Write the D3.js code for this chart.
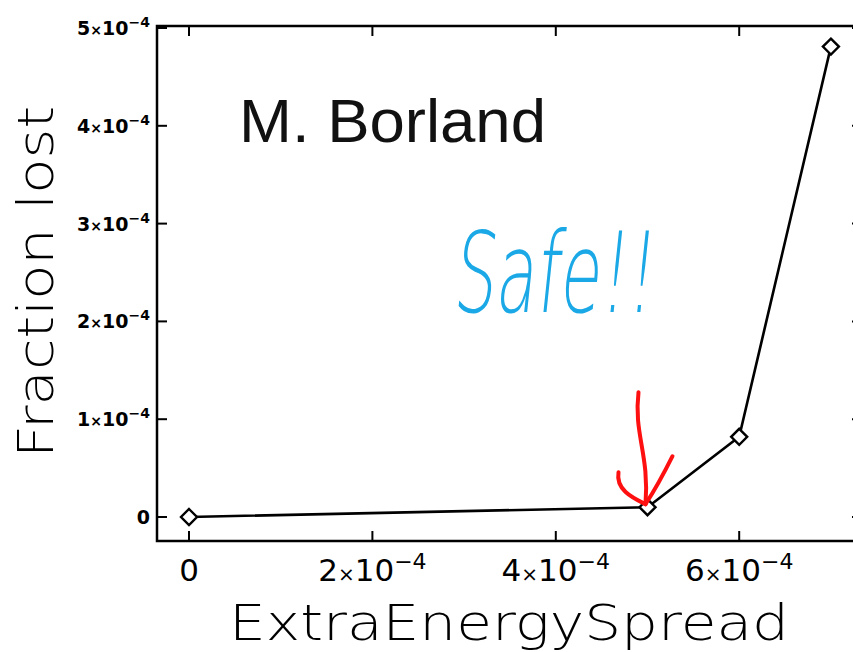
<!DOCTYPE html>
<html>
<head>
<meta charset="utf-8">
<script src="https://cdn.jsdelivr.net/npm/d3@7"></script>
<style>
  body { margin: 0; background: #fff; }
  svg { display: block; }
</style>
</head>
<body>
<div id="chart"></div>
<script>
// data
const spread = [0, 5e-4, 6e-4, 7e-4];
const fractionLost = [0, 1.0e-5, 8.2e-5, 4.81e-4];
const xTicks = [0, 2e-4, 4e-4, 6e-4];
const xTickMant = ["0", "2", "4", "6"];
const yTicks = [0, 1e-4, 2e-4, 3e-4, 4e-4, 5e-4];
const yTickMant = ["0", "1", "2", "3", "4", "5"];

const W = 853, H = 652;
const frame = { left: 157, top: 26, right: 862, bottom: 541 };

const svg = d3.select("#chart").append("svg")
  .attr("width", W).attr("height", H);

const x = d3.scaleLinear().domain([0, 7e-4]).range([189, 189 + 7 * 91.7]);
const y = d3.scaleLinear().domain([0, 5e-4]).range([517, 28]);

// frame
svg.append("rect")
  .attr("x", frame.left).attr("y", frame.top)
  .attr("width", frame.right - frame.left).attr("height", frame.bottom - frame.top)
  .attr("fill", "none").attr("stroke", "#000").attr("stroke-width", 2.5);

// inward ticks on all four sides
const tl = 10;
svg.selectAll("line.xb").data(xTicks).enter().append("line")
  .attr("x1", d => x(d)).attr("x2", d => x(d))
  .attr("y1", frame.bottom).attr("y2", frame.bottom - tl)
  .attr("stroke", "#000").attr("stroke-width", 2);
svg.selectAll("line.xt").data(xTicks).enter().append("line")
  .attr("x1", d => x(d)).attr("x2", d => x(d))
  .attr("y1", frame.top).attr("y2", frame.top + tl)
  .attr("stroke", "#000").attr("stroke-width", 2);
svg.selectAll("line.yl").data(yTicks).enter().append("line")
  .attr("x1", frame.left).attr("x2", frame.left + tl)
  .attr("y1", d => y(d)).attr("y2", d => y(d))
  .attr("stroke", "#000").attr("stroke-width", 2);
svg.selectAll("line.yr").data(yTicks).enter().append("line")
  .attr("x1", frame.right).attr("x2", frame.right - tl)
  .attr("y1", d => y(d)).attr("y2", d => y(d))
  .attr("stroke", "#000").attr("stroke-width", 2);

// x tick labels
const xl = svg.selectAll("text.xl").data(xTicks).enter().append("text")
  .attr("x", d => x(d)).attr("y", 581)
  .attr("text-anchor", "middle")
  .style("font-family", "DejaVu Sans").style("font-weight", "normal")
  .style("font-size", "31px").style("fill", "#000");
xl.each(function(d, i) {
  const t = d3.select(this);
  t.append("tspan").text(xTickMant[i]);
  if (d !== 0) {
    t.append("tspan").style("font-size", "20px").text("×");
    t.append("tspan").text("10");
    t.append("tspan").attr("dy", -12).style("font-size", "22px").text("−4");
  }
});

// y tick labels
const yl = svg.selectAll("text.yl").data(yTicks).enter().append("text")
  .attr("x", 150).attr("y", d => y(d) + 7)
  .attr("text-anchor", "end")
  .style("font-family", "DejaVu Sans").style("font-weight", "bold")
  .style("font-size", "19px").style("fill", "#000");
yl.each(function(d, i) {
  const t = d3.select(this);
  if (d === 0) { t.append("tspan").text("0"); return; }
  t.append("tspan").text(yTickMant[i]);
  t.append("tspan").style("font-size", "14px").text("×");
  t.append("tspan").text("10");
  t.append("tspan").attr("dy", -8).style("font-size", "14px").text("−4");
});

// axis titles
svg.append("text")
  .attr("x", 509).attr("y", 640)
  .attr("text-anchor", "middle")
  .attr("textLength", 560).attr("lengthAdjust", "spacingAndGlyphs")
  .style("font-family", "DejaVu Sans").style("font-weight", 200)
  .style("font-size", "50px").style("fill", "#000")
  .text("ExtraEnergySpread");

svg.append("text")
  .attr("transform", "translate(53,282) rotate(-90)")
  .attr("text-anchor", "middle")
  .attr("textLength", 352).attr("lengthAdjust", "spacingAndGlyphs")
  .style("font-family", "DejaVu Sans").style("font-weight", 200)
  .style("font-size", "50px").style("fill", "#000")
  .text("Fraction lost");

// data line and diamonds
const pts = spread.map((s, i) => ({ s, f: fractionLost[i] }));
svg.append("path").datum(pts)
  .attr("fill", "none").attr("stroke", "#000").attr("stroke-width", 2.6)
  .attr("d", d3.line().x(d => x(d.s)).y(d => y(d.f)));

svg.selectAll("path.pt").data(pts).enter().append("path")
  .attr("transform", d => `translate(${x(d.s)},${y(d.f)})`)
  .attr("d", "M0,-8L8,0L0,8L-8,0Z")
  .attr("fill", "#fff").attr("stroke", "#000").attr("stroke-width", 2.4);

// author label
svg.append("text")
  .attr("x", 239).attr("y", 142)
  .attr("textLength", 307).attr("lengthAdjust", "spacingAndGlyphs")
  .style("font-family", "Liberation Sans, Arial, sans-serif")
  .style("font-size", "62px").style("fill", "#111")
  .text("M. Borland");

// handwritten note
svg.append("text")
  .attr("transform", "translate(452,312) skewX(-6)")
  .attr("textLength", 200).attr("lengthAdjust", "spacingAndGlyphs")
  .style("font-family", "DejaVu Sans").style("font-weight", 200)
  .style("font-size", "112px").style("fill", "#1aa8e6")
  .text("Safe!!");

// red arrow pointing at the 5e-4 point
const tipX = x(5e-4) - 2, tipY = y(1.0e-5) - 3;
const arrow = svg.append("g")
  .attr("fill", "none").attr("stroke", "#ff1010").attr("stroke-width", 4)
  .attr("stroke-linecap", "round").attr("stroke-linejoin", "round");
arrow.append("path")
  .attr("d", `M${tipX - 7},${tipY - 112} C${tipX - 12},${tipY - 70} ${tipX + 4},${tipY - 50} ${tipX},${tipY}`);
arrow.append("path")
  .attr("d", `M${tipX - 27},${tipY - 32} C${tipX - 30},${tipY - 14} ${tipX - 12},${tipY - 6} ${tipX},${tipY}`);
arrow.append("path")
  .attr("d", `M${tipX + 27},${tipY - 48} C${tipX + 18},${tipY - 30} ${tipX + 8},${tipY - 12} ${tipX},${tipY}`);
</script>
</body>
</html>
